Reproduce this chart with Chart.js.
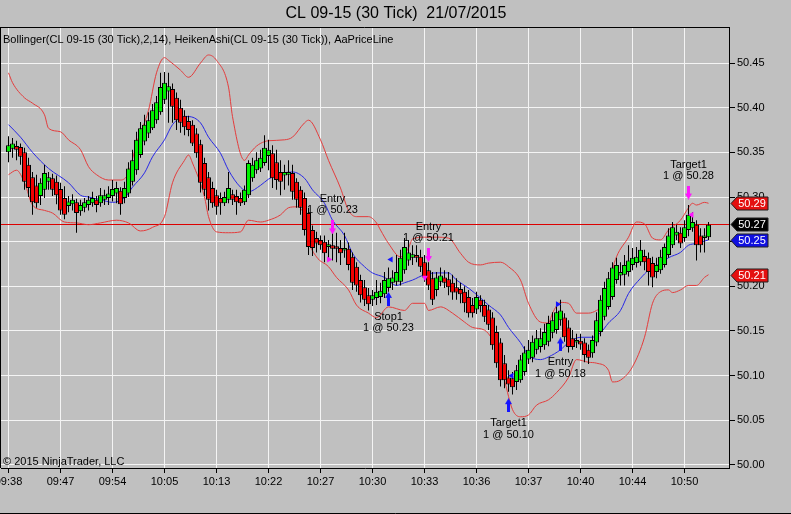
<!DOCTYPE html>
<html>
<head>
<meta charset="utf-8">
<title>CL 09-15 (30 Tick) 21/07/2015</title>
<script src="https://cdn.jsdelivr.net/npm/chart.js@4.4.1/dist/chart.umd.min.js"></script>
<style>
html, body { margin: 0; padding: 0; background: #c0c0c0; overflow: hidden; }
canvas { display: block; }
</style>
</head>
<body>
<canvas id="myChart" width="791" height="514"></canvas>
<script>
// Heiken Ashi bars, one per 30 ticks (index 0 = first bar on screen)
var openP = [
50.350,50.354,50.357,50.356,50.350,50.336,50.322,50.313,50.301,50.308,
50.317,50.321,50.317,50.309,50.299,50.290,50.292,50.294,50.284,50.288,
50.291,50.293,50.297,50.293,50.297,50.299,50.301,50.304,50.307,50.299,
50.304,50.317,50.330,50.347,50.362,50.371,50.377,50.386,50.395,50.409,
50.418,50.421,50.411,50.400,50.391,50.385,50.381,50.371,50.359,50.338,
50.322,50.310,50.302,50.299,50.293,50.297,50.303,50.301,50.299,50.294,
50.302,50.321,50.330,50.332,50.338,50.346,50.349,50.339,50.328,50.324,
50.325,50.327,50.317,50.308,50.299,50.282,50.263,50.254,50.252,50.250,
50.244,50.246,50.245,50.243,50.240,50.242,50.233,50.222,50.207,50.199,
50.190,50.185,50.187,50.188,50.191,50.198,50.204,50.205,50.205,50.218,
50.229,50.232,50.235,50.233,50.227,50.218,50.209,50.196,50.205,50.210,
50.208,50.204,50.199,50.197,50.194,50.188,50.179,50.174,50.185,50.179,
50.174,50.165,50.149,50.137,50.114,50.098,50.097,50.093,50.095,50.104,
50.118,50.120,50.129,50.132,50.134,50.138,50.148,50.151,50.162,50.165,
50.154,50.142,50.137,50.139,50.137,50.129,50.125,50.137,50.149,50.166,
50.177,50.188,50.207,50.212,50.213,50.216,50.224,50.226,50.227,50.234,
50.232,50.226,50.216,50.218,50.224,50.235,50.246,50.257,50.260,50.254,
50.263,50.265,50.269,50.257,50.254,50.255]
var closeP = [
50.358,50.360,50.353,50.345,50.317,50.310,50.294,50.293,50.316,50.327,
50.322,50.308,50.302,50.285,50.280,50.295,50.297,50.282,50.291,50.294,
50.297,50.299,50.291,50.302,50.302,50.304,50.309,50.310,50.292,50.310,
50.332,50.341,50.364,50.377,50.381,50.386,50.397,50.406,50.423,50.428,
50.424,50.401,50.386,50.383,50.378,50.375,50.360,50.349,50.316,50.308,
50.297,50.293,50.289,50.293,50.300,50.310,50.297,50.294,50.293,50.308,
50.338,50.336,50.341,50.344,50.355,50.353,50.321,50.319,50.317,50.328,
50.328,50.306,50.297,50.288,50.263,50.244,50.243,50.248,50.246,50.237,
50.247,50.242,50.242,50.237,50.243,50.224,50.204,50.201,50.190,50.185,
50.180,50.190,50.194,50.195,50.207,50.209,50.210,50.216,50.232,50.244,
50.238,50.236,50.232,50.222,50.210,50.201,50.185,50.210,50.212,50.204,
50.199,50.193,50.193,50.191,50.181,50.170,50.170,50.188,50.178,50.166,
50.157,50.134,50.114,50.095,50.095,50.090,50.087,50.106,50.118,50.126,
50.129,50.138,50.142,50.142,50.149,50.159,50.162,50.171,50.173,50.143,
50.132,50.132,50.140,50.135,50.123,50.120,50.140,50.162,50.185,50.198,
50.209,50.221,50.224,50.216,50.224,50.229,50.232,50.233,50.241,50.227,
50.216,50.210,50.224,50.233,50.244,50.257,50.266,50.261,50.248,50.266,
50.280,50.272,50.246,50.246,50.257,50.269]
var highP = [
50.368,50.366,50.363,50.360,50.355,50.344,50.328,50.325,50.321,50.336,
50.328,50.326,50.324,50.316,50.312,50.301,50.303,50.298,50.297,50.299,
50.301,50.306,50.301,50.310,50.308,50.312,50.319,50.317,50.311,50.317,
50.339,50.353,50.373,50.384,50.392,50.395,50.404,50.413,50.439,50.440,
50.439,50.427,50.417,50.409,50.397,50.391,50.386,50.377,50.364,50.344,
50.328,50.317,50.308,50.305,50.306,50.328,50.308,50.308,50.305,50.313,
50.341,50.344,50.350,50.353,50.369,50.364,50.358,50.353,50.341,50.336,
50.341,50.336,50.321,50.312,50.305,50.288,50.268,50.261,50.257,50.257,
50.252,50.265,50.260,50.252,50.260,50.249,50.238,50.227,50.213,50.207,
50.198,50.196,50.207,50.204,50.216,50.221,50.218,50.235,50.241,50.254,
50.252,50.246,50.246,50.241,50.235,50.227,50.216,50.216,50.221,50.218,
50.216,50.213,50.209,50.204,50.200,50.196,50.187,50.194,50.190,50.185,
50.179,50.171,50.156,50.142,50.123,50.106,50.104,50.112,50.123,50.133,
50.140,50.145,50.151,50.153,50.158,50.167,50.171,50.179,50.185,50.170,
50.162,50.151,50.147,50.147,50.142,50.135,50.145,50.171,50.190,50.205,
50.216,50.227,50.232,50.227,50.235,50.246,50.243,50.244,50.252,50.241,
50.238,50.233,50.232,50.241,50.248,50.265,50.272,50.269,50.266,50.274,
50.291,50.283,50.274,50.265,50.265,50.272]
var lowP = [
50.339,50.344,50.341,50.336,50.308,50.300,50.280,50.288,50.291,50.299,
50.308,50.301,50.292,50.280,50.275,50.283,50.285,50.260,50.279,50.283,
50.285,50.289,50.283,50.289,50.291,50.291,50.295,50.293,50.280,50.293,
50.300,50.313,50.325,50.344,50.358,50.366,50.375,50.382,50.392,50.404,
50.383,50.383,50.375,50.372,50.369,50.368,50.357,50.344,50.305,50.301,
50.285,50.288,50.280,50.280,50.290,50.293,50.291,50.280,50.290,50.291,
50.299,50.317,50.326,50.328,50.335,50.330,50.310,50.308,50.302,50.308,
50.313,50.297,50.288,50.280,50.257,50.235,50.234,50.238,50.241,50.227,
50.232,50.229,50.227,50.224,50.232,50.218,50.196,50.194,50.182,50.178,
50.173,50.178,50.179,50.181,50.187,50.194,50.196,50.201,50.201,50.214,
50.223,50.224,50.227,50.216,50.205,50.196,50.179,50.189,50.200,50.198,
50.190,50.185,50.185,50.181,50.171,50.165,50.165,50.169,50.171,50.160,
50.151,50.129,50.109,50.088,50.086,50.082,50.079,50.084,50.092,50.100,
50.113,50.115,50.124,50.126,50.129,50.133,50.142,50.147,50.156,50.138,
50.126,50.129,50.131,50.129,50.115,50.113,50.120,50.133,50.144,50.162,
50.174,50.185,50.203,50.201,50.201,50.211,50.218,50.221,50.223,50.218,
50.201,50.199,50.209,50.214,50.221,50.232,50.243,50.252,50.243,50.250,
50.256,50.261,50.229,50.238,50.238,50.252]

// Bollinger(14, 2): bar index + value
var upBars = [0,1,4,6,9,10,13,15,18,20,22,25,28,30,32,35,37,39,40,43,45,48,50,52,55,56,59,60,62,64,
  65,69,71,74,75,78,80,83,85,87,90,92,93,95,98,100,101,104,107,110,113,115,118,120,123,125,128,130,133,135,
  136,138,140,142,145,147,150,151,152,155,157,159,161,163,165,168,170,171,172,174,175]
var upVals = [50.439,50.428,50.411,50.405,50.392,50.377,50.373,50.364,50.353,50.334,50.325,50.319,50.319,50.327,50.360,
  50.397,50.439,50.456,50.453,50.442,50.434,50.450,50.459,50.453,50.423,50.390,50.341,50.347,50.357,50.362,
  50.363,50.364,50.367,50.383,50.386,50.364,50.341,50.310,50.285,50.278,50.278,50.271,50.263,50.248,50.233,
  50.243,50.253,50.255,50.255,50.254,50.237,50.227,50.224,50.226,50.227,50.222,50.207,50.181,50.160,50.159,
  50.170,50.182,50.181,50.170,50.170,50.173,50.188,50.218,50.233,50.255,50.272,50.270,50.254,50.252,50.263,
  50.274,50.288,50.293,50.291,50.294,50.293]
var midBars = [0,3,6,10,15,18,20,23,26,29,31,34,36,39,41,44,45,48,50,53,55,58,60,63,65,68,71,74,76,79,
  81,84,86,89,91,94,97,99,101,104,107,110,112,115,118,120,123,125,128,130,133,135,138,140,143,146,148,150,153,155,
  158,160,163,165,168,170,172,175]
var midVals = [50.381,50.367,50.350,50.332,50.316,50.302,50.300,50.297,50.294,50.299,50.311,50.327,50.345,50.364,50.381,
  50.390,50.390,50.383,50.367,50.349,50.330,50.311,50.306,50.313,50.320,50.326,50.328,50.321,50.308,50.293,
  50.274,50.257,50.237,50.222,50.215,50.210,50.201,50.204,50.207,50.213,50.215,50.215,50.207,50.198,50.187,
  50.179,50.168,50.154,50.137,50.123,50.118,50.121,50.129,50.137,50.143,50.143,50.148,50.159,50.173,50.192,
  50.209,50.218,50.226,50.232,50.238,50.246,50.248,50.252]
var loBars = [0,2,4,6,9,11,14,17,20,23,27,30,33,36,39,41,44,45,46,49,50,52,55,58,60,63,65,68,70,72,
  74,75,77,80,82,85,87,90,92,95,99,101,104,105,108,111,114,116,119,121,122,124,126,128,130,132,135,137,140,142,
  145,147,150,151,153,156,159,161,163,165,166,168,170,172,174,175]
var loVals = [50.325,50.330,50.316,50.291,50.285,50.282,50.272,50.271,50.269,50.271,50.274,50.271,50.262,50.266,50.278,
  50.316,50.341,50.347,50.338,50.300,50.278,50.261,50.260,50.261,50.274,50.272,50.274,50.280,50.288,50.289,
  50.278,50.252,50.233,50.222,50.210,50.196,50.179,50.170,50.165,50.177,50.173,50.181,50.181,50.173,50.177,
  50.170,50.160,50.154,50.151,50.140,50.129,50.095,50.062,50.054,50.056,50.067,50.073,50.081,50.098,50.118,
  50.115,50.114,50.106,50.093,50.095,50.110,50.143,50.181,50.194,50.196,50.193,50.196,50.201,50.201,50.210,
  50.213]

var lastPrice = 50.27

// x axis labels
var tickBars = [0,13,26,39,52,65,78,91,104,117,130,143,156,169]
var timeLabels = ['09:38','09:47','09:54','10:05','10:13','10:22','10:27','10:30','10:33','10:36','10:37','10:40','10:44','10:50']

// strategy signals and fills
var signalNames = ['Entry','Stop1','Entry','Target1','Entry','Target1']
var signalSides = ['sell','buy','sell','buy','buy','sell']
var signalBars = [81,95,105,125,138,170]
var signalPrices = [50.266,50.186,50.235,50.067,50.135,50.305]
var fillBars = [80.1,95.6,104.1,125.8,137.3,170.8]
var fillPrices = [50.23,50.23,50.21,50.10,50.18,50.28]
var fillTurn = [90,270,180,270,90,270]

var GREEN = '#00f000', RED = '#f00000', BAND = '#e43c3c', MID = '#2828e6'
var BUY = '#1414ff', SELL = '#ff14ff', GRID = '#f4f4f4'

Chart.defaults.font.family = '"Liberation Sans", Arial, sans-serif'
Chart.defaults.font.size = 11
Chart.defaults.color = '#000'

function makeArrow(color, up) {
  var c = document.createElement('canvas')
  c.width = 7; c.height = 14
  var g = c.getContext('2d')
  g.fillStyle = color
  g.beginPath()
  if (up) {
    g.moveTo(3.5, 0); g.lineTo(7, 6); g.lineTo(5, 6); g.lineTo(5, 14); g.lineTo(2, 14); g.lineTo(2, 6); g.lineTo(0, 6)
  } else {
    g.moveTo(3.5, 14); g.lineTo(7, 8); g.lineTo(5, 8); g.lineTo(5, 0); g.lineTo(2, 0); g.lineTo(2, 8); g.lineTo(0, 8)
  }
  g.closePath()
  g.fill()
  return c
}
var upArrow = makeArrow(BUY, true)
var downArrow = makeArrow(SELL, false)

function pts(xs, ys) {
  return xs.map(function (x, k) { return { x: x, y: ys[k] } })
}

var bodies = openP.map(function (o, i) { return { x: i, y: [o, closeP[i]] } })
var wicks = openP.map(function (o, i) { return { x: i, y: [lowP[i], highP[i]] } })

function drawTag(g, x0, y, text, fill) {
  y = Math.round(y) + 0.5
  g.beginPath()
  g.moveTo(x0 + 1, y)
  g.lineTo(x0 + 7, y - 6.5)
  g.lineTo(x0 + 38, y - 6.5)
  g.lineTo(x0 + 38, y + 6.5)
  g.lineTo(x0 + 7, y + 6.5)
  g.closePath()
  g.fillStyle = fill
  g.fill()
  g.strokeStyle = '#202020'
  g.lineWidth = 1
  g.stroke()
  g.fillStyle = '#fff'
  g.textAlign = 'center'
  g.textBaseline = 'middle'
  g.fillText(text, x0 + 22, y)
}

var ninja = {
  id: 'ninja',
  beforeDraw: function (chart) {
    var g = chart.ctx
    g.save()
    g.fillStyle = '#c0c0c0'
    g.fillRect(0, 0, chart.width, chart.height)
    g.restore()
  },
  beforeDatasetsDraw: function (chart) {
    var g = chart.ctx, a = chart.chartArea
    var y = Math.round(chart.scales.y.getPixelForValue(lastPrice)) + 0.5
    g.save()
    g.strokeStyle = '#dc0000'
    g.lineWidth = 1
    g.beginPath()
    g.moveTo(a.left, y)
    g.lineTo(a.right, y)
    g.stroke()
    g.restore()
  },
  afterDraw: function (chart) {
    var g = chart.ctx, a = chart.chartArea, xs = chart.scales.x, ys = chart.scales.y
    g.save()
    // frame
    g.strokeStyle = '#000'
    g.lineWidth = 1
    g.beginPath()
    g.moveTo(0, Math.round(a.top) + 0.5); g.lineTo(a.right, Math.round(a.top) + 0.5)
    g.moveTo(0.5, a.top); g.lineTo(0.5, a.bottom)
    g.moveTo(0, chart.height - 0.5); g.lineTo(chart.width, chart.height - 0.5)
    g.stroke()

    g.fillStyle = '#000'
    g.font = '11px "Liberation Sans", Arial, sans-serif'
    g.textBaseline = 'middle'
    g.textAlign = 'left'
    g.fillText('Bollinger(CL 09-15 (30 Tick),2,14), HeikenAshi(CL 09-15 (30 Tick)), AaPriceLine', 3, a.top + 13)
    g.fillText('\u00a9 2015 NinjaTrader, LLC', 3, a.bottom - 6)

    // signal captions
    g.textAlign = 'center'
    signalNames.forEach(function (name, k) {
      var px = xs.getPixelForValue(signalBars[k])
      var py = ys.getPixelForValue(signalPrices[k])
      var qty = '1 @ ' + fillPrices[k].toFixed(2)
      if (signalSides[k] === 'buy') {
        g.fillText(name, px, py + 18)
        g.fillText(qty, px, py + 29.5)
      } else {
        g.fillText(name, px, py - 28)
        g.fillText(qty, px, py - 17)
      }
    })

    // price markers on the axis
    var x0 = a.right + 1
    drawTag(g, x0, ys.getPixelForValue(upVals[upVals.length - 1]), upVals[upVals.length - 1].toFixed(2), '#e41010')
    drawTag(g, x0, ys.getPixelForValue(lastPrice), lastPrice.toFixed(2), '#000')
    drawTag(g, x0, ys.getPixelForValue(midVals[midVals.length - 1]), midVals[midVals.length - 1].toFixed(2), '#1010e0')
    drawTag(g, x0, ys.getPixelForValue(loVals[loVals.length - 1]), loVals[loVals.length - 1].toFixed(2), '#e41010')
    g.restore()
  }
}

var chart = new Chart('myChart', {
  type: 'bar',
  data: {
    datasets: [
      {
        type: 'scatter',
        data: pts(signalBars, signalPrices),
        pointStyle: signalSides.map(function (s) { return s === 'buy' ? upArrow : downArrow }),
        pointRadius: 7,
        order: 0
      },
      {
        type: 'scatter',
        data: pts(fillBars, fillPrices),
        pointStyle: 'triangle',
        rotation: fillTurn,
        pointRadius: 3.5,
        borderWidth: 0,
        backgroundColor: signalSides.map(function (s) { return s === 'buy' ? BUY : SELL }),
        order: 0
      },
      {
        data: bodies,
        backgroundColor: openP.map(function (o, i) { return closeP[i] >= o ? GREEN : RED }),
        borderColor: '#000',
        borderWidth: 1,
        borderSkipped: false,
        inflateAmount: 0,
        barThickness: 5,
        grouped: false,
        order: 1
      },
      {
        data: wicks,
        backgroundColor: '#000',
        borderWidth: 0,
        inflateAmount: 0,
        barThickness: 1,
        grouped: false,
        order: 2
      },
      {
        type: 'line', data: pts(upBars, upVals), borderColor: BAND, borderWidth: 1,
        pointRadius: 0, cubicInterpolationMode: 'monotone', order: 3
      },
      {
        type: 'line', data: pts(midBars, midVals), borderColor: MID, borderWidth: 1,
        pointRadius: 0, cubicInterpolationMode: 'monotone', order: 3
      },
      {
        type: 'line', data: pts(loBars, loVals), borderColor: BAND, borderWidth: 1,
        pointRadius: 0, cubicInterpolationMode: 'monotone', order: 3
      }
    ]
  },
  options: {
    responsive: false,
    animation: false,
    events: [],
    layout: { autoPadding: false, padding: { left: 1, right: 0, top: 0, bottom: 0 } },
    plugins: {
      legend: { display: false },
      tooltip: { enabled: false },
      title: {
        display: true,
        text: 'CL 09-15 (30 Tick)  21/07/2015',
        color: '#000',
        font: { size: 16, weight: 'normal' },
        padding: { top: 4, bottom: 3.8 }
      }
    },
    scales: {
      x: {
        type: 'linear',
        min: -1.875,
        max: 180.125,
        offset: false,
        grid: { color: GRID, offset: false, tickLength: 5, tickColor: '#000' },
        border: { color: '#000' },
        ticks: {
          autoSkip: false, maxRotation: 0, minRotation: 0, padding: 2, color: '#000',
          callback: function (v) { return timeLabels[tickBars.indexOf(v)] }
        },
        afterBuildTicks: function (scale) {
          scale.ticks = tickBars.map(function (v) { return { value: v } })
        },
        afterFit: function (scale) {
          scale.height = 46
          scale.paddingLeft = 0
          scale.paddingRight = 0
        }
      },
      y: {
        position: 'right',
        min: 49.99664,
        max: 50.4903,
        beginAtZero: false,
        grid: { color: GRID, tickLength: 6, tickColor: '#000' },
        border: { color: '#000' },
        ticks: {
          stepSize: 0.05, includeBounds: false, padding: 2, color: '#000',
          callback: function (v) { return v.toFixed(2) }
        },
        afterFit: function (scale) { scale.width = 62 }
      }
    }
  },
  plugins: [ninja]
})
</script>
</body>
</html>
